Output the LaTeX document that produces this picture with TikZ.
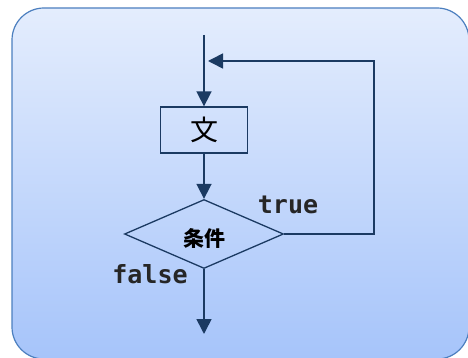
\documentclass[tikz,border=0pt]{standalone}
\usepackage{fontspec}
\setmonofont{DejaVu Sans Mono}
\newfontfamily\cjk{Noto Sans CJK JP}
\usetikzlibrary{arrows.meta,shapes.geometric}
\definecolor{flowline}{HTML}{1B3A62}
\definecolor{panelborder}{HTML}{4C7FBF}
\definecolor{paneltop}{HTML}{E4EDFD}
\definecolor{panelbottom}{HTML}{A6C4FA}
\tikzset{
	flow/.style={draw=flowline,line width=1.6pt,-{Triangle[length=15pt,width=15pt]}},
	label/.style={font=\ttfamily\bfseries\fontsize{25}{27}\selectfont,text=black!85}
}

\begin{document}
\begin{tikzpicture}[x=1pt,y=-1pt]
			\useasboundingbox (0,0) rectangle (468,358);
			\clip (0,0) rectangle (468,358);
			\draw[panelborder,line width=1.2pt,rounded corners=32pt,top color=paneltop,bottom color=panelbottom] (12,8) rectangle (469,359);

			\coordinate (start) at (204,35);
			\node[draw=flowline,line width=1.3pt,minimum width=87pt,minimum height=46pt,font=\cjk\fontsize{28}{30}\selectfont] (stmt) at (204,130) {文};
			\node[draw=flowline,line width=1.3pt,shape=diamond,inner sep=0pt,minimum width=159pt,minimum height=69pt] (cond) at (204,234) {};
			\node[font=\cjk\bfseries\fontsize{21}{23}\selectfont] (condtext) at (204,238) {条件};
			\coordinate (corner1) at (374,234);
			\coordinate (corner2) at (374,61);
			\coordinate (back) at (204,61);
			\coordinate (exit) at (204,334);

			\node[label,anchor=base] (truelbl) at (288,213) {true};
			\node[label,anchor=base] (falselbl) at (150,283) {false};

			\draw[flow] (start) -- (stmt.north);
			\draw[flow] (stmt.south) -- (cond.north);
			\draw[flow,shorten >=4pt] (cond.east) -- (corner1) -- (corner2) -- (back);
			\draw[flow] (cond.south) -- (exit);
\end{tikzpicture}
\end{document}
